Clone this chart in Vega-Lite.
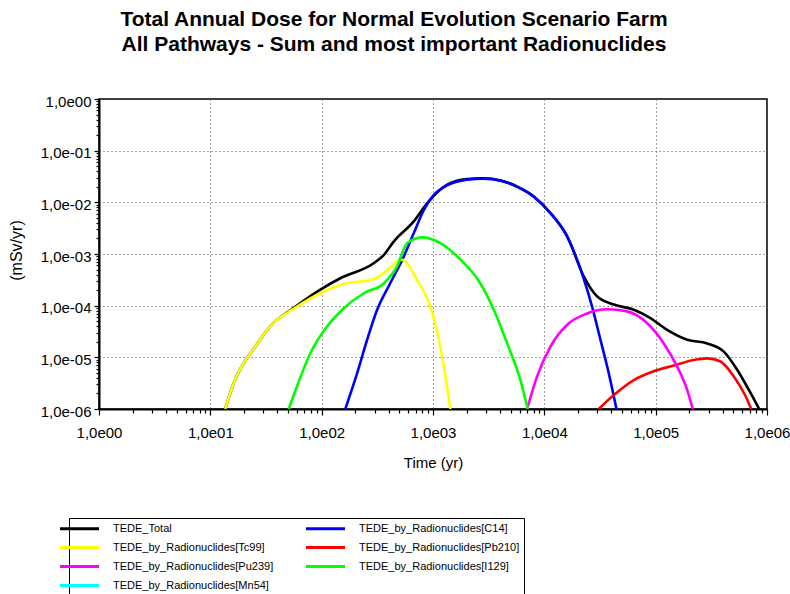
{
  "$schema": "https://vega.github.io/schema/vega-lite/v6.json",
  "width": 668,
  "height": 310,
  "autosize": "none",
  "padding": {"left": 99, "top": 99, "right": 23, "bottom": 185},
  "background": "white",
  "title": {
    "text": ["Total Annual Dose for Normal Evolution Scenario Farm", "All Pathways - Sum and most important Radionuclides"],
    "font": "Liberation Sans",
    "fontSize": 21,
    "fontWeight": "bold",
    "color": "black",
    "anchor": "middle",
    "frame": "group",
    "dx": -39,
    "offset": 18,
    "lineHeight": 25,
    "baseline": "bottom"
  },
  "config": {
    "view": {"stroke": "black", "strokeWidth": 1.5},
    "axis": {
      "domainColor": "black",
      "domainWidth": 2,
      "tickColor": "black",
      "tickWidth": 1.2,
      "labelFont": "Liberation Sans",
      "labelFontSize": 15,
      "labelColor": "black",
      "titleFont": "Liberation Sans",
      "titleFontSize": 15,
      "titleFontWeight": "normal",
      "titleColor": "black",
      "gridColor": "#444444",
      "gridDash": [1, 3],
      "gridWidth": 1,
      "labelOverlap": false,
      "labelFlush": false
    }
  },
  "data": {
    "values": [
      {"series": "TEDE_Total", "t": 13.6, "dose": 1e-6},
      {"series": "TEDE_Total", "t": 16.2, "dose": 3.16e-6},
      {"series": "TEDE_Total", "t": 25.4, "dose": 1.62e-5},
      {"series": "TEDE_Total", "t": 34.6, "dose": 3.98e-5},
      {"series": "TEDE_Total", "t": 60.0, "dose": 1.0e-4},
      {"series": "TEDE_Total", "t": 97.3, "dose": 2.04e-4},
      {"series": "TEDE_Total", "t": 147, "dose": 3.39e-4},
      {"series": "TEDE_Total", "t": 293, "dose": 6.61e-4},
      {"series": "TEDE_Total", "t": 361, "dose": 9.55e-4},
      {"series": "TEDE_Total", "t": 444, "dose": 1.74e-3},
      {"series": "TEDE_Total", "t": 671, "dose": 4.27e-3},
      {"series": "TEDE_Total", "t": 885, "dose": 9.55e-3},
      {"series": "TEDE_Total", "t": 1340, "dose": 2.19e-2},
      {"series": "TEDE_Total", "t": 2023, "dose": 2.82e-2},
      {"series": "TEDE_Total", "t": 2858, "dose": 2.92e-2},
      {"series": "TEDE_Total", "t": 4036, "dose": 2.65e-2},
      {"series": "TEDE_Total", "t": 5702, "dose": 2.02e-2},
      {"series": "TEDE_Total", "t": 8035, "dose": 1.3e-2},
      {"series": "TEDE_Total", "t": 11350, "dose": 6.2e-3},
      {"series": "TEDE_Total", "t": 16030, "dose": 2.2e-3},
      {"series": "TEDE_Total", "t": 22590, "dose": 3.7e-4},
      {"series": "TEDE_Total", "t": 29790, "dose": 1.51e-4},
      {"series": "TEDE_Total", "t": 42070, "dose": 1.05e-4},
      {"series": "TEDE_Total", "t": 63680, "dose": 8.32e-5},
      {"series": "TEDE_Total", "t": 89740, "dose": 5.75e-5},
      {"series": "TEDE_Total", "t": 126800, "dose": 3.39e-5},
      {"series": "TEDE_Total", "t": 191900, "dose": 2.19e-5},
      {"series": "TEDE_Total", "t": 290400, "dose": 1.86e-5},
      {"series": "TEDE_Total", "t": 409300, "dose": 1.29e-5},
      {"series": "TEDE_Total", "t": 539500, "dose": 5.75e-6},
      {"series": "TEDE_Total", "t": 687100, "dose": 2.34e-6},
      {"series": "TEDE_Total", "t": 851000, "dose": 1e-6},

      {"series": "TEDE_by_Radionuclides[C14]", "t": 163, "dose": 1e-6},
      {"series": "TEDE_by_Radionuclides[C14]", "t": 208, "dose": 4.9e-6},
      {"series": "TEDE_by_Radionuclides[C14]", "t": 256, "dose": 2.19e-5},
      {"series": "TEDE_by_Radionuclides[C14]", "t": 315, "dose": 8.32e-5},
      {"series": "TEDE_by_Radionuclides[C14]", "t": 414, "dose": 2.75e-4},
      {"series": "TEDE_by_Radionuclides[C14]", "t": 546, "dose": 8.91e-4},
      {"series": "TEDE_by_Radionuclides[C14]", "t": 671, "dose": 2.51e-3},
      {"series": "TEDE_by_Radionuclides[C14]", "t": 826, "dose": 7.08e-3},
      {"series": "TEDE_by_Radionuclides[C14]", "t": 1014, "dose": 1.38e-2},
      {"series": "TEDE_by_Radionuclides[C14]", "t": 1340, "dose": 2.14e-2},
      {"series": "TEDE_by_Radionuclides[C14]", "t": 2023, "dose": 2.75e-2},
      {"series": "TEDE_by_Radionuclides[C14]", "t": 2858, "dose": 2.88e-2},
      {"series": "TEDE_by_Radionuclides[C14]", "t": 4036, "dose": 2.63e-2},
      {"series": "TEDE_by_Radionuclides[C14]", "t": 5702, "dose": 2.0e-2},
      {"series": "TEDE_by_Radionuclides[C14]", "t": 8035, "dose": 1.29e-2},
      {"series": "TEDE_by_Radionuclides[C14]", "t": 11350, "dose": 6.17e-3},
      {"series": "TEDE_by_Radionuclides[C14]", "t": 16030, "dose": 2.19e-3},
      {"series": "TEDE_by_Radionuclides[C14]", "t": 22390, "dose": 3.55e-4},
      {"series": "TEDE_by_Radionuclides[C14]", "t": 26850, "dose": 9.55e-5},
      {"series": "TEDE_by_Radionuclides[C14]", "t": 31920, "dose": 2.19e-5},
      {"series": "TEDE_by_Radionuclides[C14]", "t": 37930, "dose": 4.9e-6},
      {"series": "TEDE_by_Radionuclides[C14]", "t": 44460, "dose": 1e-6},

      {"series": "TEDE_by_Radionuclides[Tc99]", "t": 13.6, "dose": 1e-6},
      {"series": "TEDE_by_Radionuclides[Tc99]", "t": 16.2, "dose": 3.16e-6},
      {"series": "TEDE_by_Radionuclides[Tc99]", "t": 25.4, "dose": 1.62e-5},
      {"series": "TEDE_by_Radionuclides[Tc99]", "t": 34.6, "dose": 3.98e-5},
      {"series": "TEDE_by_Radionuclides[Tc99]", "t": 60.0, "dose": 9.55e-5},
      {"series": "TEDE_by_Radionuclides[Tc99]", "t": 97.3, "dose": 1.74e-4},
      {"series": "TEDE_by_Radionuclides[Tc99]", "t": 158, "dose": 2.63e-4},
      {"series": "TEDE_by_Radionuclides[Tc99]", "t": 293, "dose": 3.24e-4},
      {"series": "TEDE_by_Radionuclides[Tc99]", "t": 361, "dose": 4.27e-4},
      {"series": "TEDE_by_Radionuclides[Tc99]", "t": 527, "dose": 7.76e-4},
      {"series": "TEDE_by_Radionuclides[Tc99]", "t": 719, "dose": 3.16e-4},
      {"series": "TEDE_by_Radionuclides[Tc99]", "t": 948, "dose": 9.55e-5},
      {"series": "TEDE_by_Radionuclides[Tc99]", "t": 1164, "dose": 1.62e-5},
      {"series": "TEDE_by_Radionuclides[Tc99]", "t": 1432, "dose": 1e-6},

      {"series": "TEDE_by_Radionuclides[Pb210]", "t": 30830, "dose": 1e-6},
      {"series": "TEDE_by_Radionuclides[Pb210]", "t": 42070, "dose": 1.86e-6},
      {"series": "TEDE_by_Radionuclides[Pb210]", "t": 63680, "dose": 3.63e-6},
      {"series": "TEDE_by_Radionuclides[Pb210]", "t": 96160, "dose": 5.37e-6},
      {"series": "TEDE_by_Radionuclides[Pb210]", "t": 145500, "dose": 6.92e-6},
      {"series": "TEDE_by_Radionuclides[Pb210]", "t": 219800, "dose": 8.91e-6},
      {"series": "TEDE_by_Radionuclides[Pb210]", "t": 290400, "dose": 9.55e-6},
      {"series": "TEDE_by_Radionuclides[Pb210]", "t": 382000, "dose": 8.32e-6},
      {"series": "TEDE_by_Radionuclides[Pb210]", "t": 503500, "dose": 4.27e-6},
      {"series": "TEDE_by_Radionuclides[Pb210]", "t": 641200, "dose": 1.78e-6},
      {"series": "TEDE_by_Radionuclides[Pb210]", "t": 721100, "dose": 1e-6},

      {"series": "TEDE_by_Radionuclides[Pu239]", "t": 7000, "dose": 1e-6},
      {"series": "TEDE_by_Radionuclides[Pu239]", "t": 8610, "dose": 4.27e-6},
      {"series": "TEDE_by_Radionuclides[Pu239]", "t": 11350, "dose": 1.62e-5},
      {"series": "TEDE_by_Radionuclides[Pu239]", "t": 16030, "dose": 4.27e-5},
      {"series": "TEDE_by_Radionuclides[Pu239]", "t": 24210, "dose": 7.08e-5},
      {"series": "TEDE_by_Radionuclides[Pu239]", "t": 36640, "dose": 8.51e-5},
      {"series": "TEDE_by_Radionuclides[Pu239]", "t": 55460, "dose": 7.76e-5},
      {"series": "TEDE_by_Radionuclides[Pu239]", "t": 83950, "dose": 4.57e-5},
      {"series": "TEDE_by_Radionuclides[Pu239]", "t": 118300, "dose": 1.86e-5},
      {"series": "TEDE_by_Radionuclides[Pu239]", "t": 156000, "dose": 6.61e-6},
      {"series": "TEDE_by_Radionuclides[Pu239]", "t": 191900, "dose": 2.34e-6},
      {"series": "TEDE_by_Radionuclides[Pu239]", "t": 215300, "dose": 1e-6},

      {"series": "TEDE_by_Radionuclides[I129]", "t": 50.6, "dose": 1e-6},
      {"series": "TEDE_by_Radionuclides[I129]", "t": 60.0, "dose": 2.75e-6},
      {"series": "TEDE_by_Radionuclides[I129]", "t": 79.1, "dose": 1.2e-5},
      {"series": "TEDE_by_Radionuclides[I129]", "t": 112, "dose": 3.98e-5},
      {"series": "TEDE_by_Radionuclides[I129]", "t": 158, "dose": 8.91e-5},
      {"series": "TEDE_by_Radionuclides[I129]", "t": 239, "dose": 1.74e-4},
      {"series": "TEDE_by_Radionuclides[I129]", "t": 361, "dose": 2.69e-4},
      {"series": "TEDE_by_Radionuclides[I129]", "t": 475, "dose": 5.75e-4},
      {"series": "TEDE_by_Radionuclides[I129]", "t": 585, "dose": 1.62e-3},
      {"series": "TEDE_by_Radionuclides[I129]", "t": 798, "dose": 2.1e-3},
      {"series": "TEDE_by_Radionuclides[I129]", "t": 1164, "dose": 1.62e-3},
      {"series": "TEDE_by_Radionuclides[I129]", "t": 1762, "dose": 7.76e-4},
      {"series": "TEDE_by_Radionuclides[I129]", "t": 2667, "dose": 2.69e-4},
      {"series": "TEDE_by_Radionuclides[I129]", "t": 3516, "dose": 8.32e-5},
      {"series": "TEDE_by_Radionuclides[I129]", "t": 4634, "dose": 1.86e-5},
      {"series": "TEDE_by_Radionuclides[I129]", "t": 6095, "dose": 3.63e-6},
      {"series": "TEDE_by_Radionuclides[I129]", "t": 7096, "dose": 1e-6}
    ]
  },
  "mark": {"type": "line", "strokeWidth": 2.6, "interpolate": "monotone", "clip": true},
  "encoding": {
    "x": {
      "field": "t",
      "type": "quantitative",
      "title": "Time (yr)",
      "scale": {"type": "log", "domain": [1, 1000000], "nice": false},
      "axis": {
        "values": [1,2,3,4,5,6,7,8,9,10,20,30,40,50,60,70,80,90,100,200,300,400,500,600,700,800,900,1000,2000,3000,4000,5000,6000,7000,8000,9000,10000,20000,30000,40000,50000,60000,70000,80000,90000,100000,200000,300000,400000,500000,600000,700000,800000,900000,1000000],
        "labelExpr": "abs(log(datum.value)/LN10 - round(log(datum.value)/LN10)) < 0.001 ? '1,0e' + (round(log(datum.value)/LN10) < 0 ? '-' : '') + (abs(round(log(datum.value)/LN10)) < 10 ? '0' : '') + abs(round(log(datum.value)/LN10)) : ''",
        "grid": true,
        "gridOpacity": {"condition": {"test": "abs(log(datum.value)/LN10 - round(log(datum.value)/LN10)) < 0.001", "value": 1}, "value": 0},
        "tickSize": {"condition": {"test": "abs(log(datum.value)/LN10 - round(log(datum.value)/LN10)) < 0.001", "value": 6}, "value": 4},
        "labelPadding": 10,
        "titleY": 46,
        "titleBaseline": "top"
      }
    },
    "y": {
      "field": "dose",
      "type": "quantitative",
      "title": "(mSv/yr)",
      "scale": {"type": "log", "domain": [0.000001, 1], "nice": false},
      "axis": {
        "values": [0.000001,0.000002,0.000003,0.000004,0.000005,0.000006,0.000007,0.000008,0.000009,0.00001,0.00002,0.00003,0.00004,0.00005,0.00006,0.00007,0.00008,0.00009,0.0001,0.0002,0.0003,0.0004,0.0005,0.0006,0.0007,0.0008,0.0009,0.001,0.002,0.003,0.004,0.005,0.006,0.007,0.008,0.009,0.01,0.02,0.03,0.04,0.05,0.06,0.07,0.08,0.09,0.1,0.2,0.3,0.4,0.5,0.6,0.7,0.8,0.9,1],
        "labelExpr": "abs(log(datum.value)/LN10 - round(log(datum.value)/LN10)) < 0.001 ? '1,0e' + (round(log(datum.value)/LN10) < 0 ? '-' : '') + (abs(round(log(datum.value)/LN10)) < 10 ? '0' : '') + abs(round(log(datum.value)/LN10)) : ''",
        "grid": true,
        "gridOpacity": {"condition": {"test": "abs(log(datum.value)/LN10 - round(log(datum.value)/LN10)) < 0.001", "value": 1}, "value": 0},
        "tickSize": {"condition": {"test": "abs(log(datum.value)/LN10 - round(log(datum.value)/LN10)) < 0.001", "value": 5}, "value": 3},
        "labelPadding": 3,
        "labelOffset": 2,
        "titleX": -75,
        "titleY": 151,
        "titleFontSize": 16
      }
    },
    "color": {
      "field": "series",
      "type": "nominal",
      "scale": {
        "domain": ["TEDE_Total", "TEDE_by_Radionuclides[Tc99]", "TEDE_by_Radionuclides[Pu239]", "TEDE_by_Radionuclides[Mn54]", "TEDE_by_Radionuclides[C14]", "TEDE_by_Radionuclides[Pb210]", "TEDE_by_Radionuclides[I129]"],
        "range": ["#000000", "#FFFF00", "#FF00FF", "#00FFFF", "#0000FF", "#FF0000", "#00FF00"]
      },
      "legend": {
        "orient": "none",
        "legendX": -30,
        "legendY": 419,
        "columns": 2,
        "title": null,
        "symbolType": "M-3.9,0H3.9",
        "symbolSize": 100,
        "symbolStrokeWidth": 3,
        "labelFont": "Liberation Sans",
        "labelFontSize": 11,
        "labelColor": "black",
        "labelLimit": 300,
        "labelOffset": 27,
        "strokeColor": "black",
        "fillColor": "white",
        "padding": 4,
        "columnPadding": 26,
        "rowPadding": 6
      }
    }
  }
}
